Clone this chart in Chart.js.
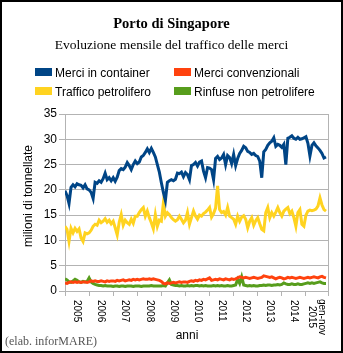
<!DOCTYPE html>
<html lang="it">
<head>
<meta charset="utf-8">
<title>Porto di Singapore</title>
<script src="https://cdn.jsdelivr.net/npm/chart.js@4.4.0/dist/chart.umd.min.js"></script>
<style>
  html, body { margin: 0; padding: 0; background: #fff; }
  canvas { display: block; }
</style>
</head>
<body>
<canvas id="chart" width="343" height="353"></canvas>
<script>
"use strict";

// ── data (milioni di tonnellate, gen 2005 – nov 2015, monthly) ────────────────

const MONTHS_TOTAL = 131;

const containerSeries = [
  19.8, 18.9, 17.3, 20.5, 21.0, 20.6, 21.2, 21.0, 20.9, 20.4, 21.0, 20.2,
  20.0, 19.5, 18.3, 21.5, 21.3, 21.8, 21.5, 22.2, 23.3, 22.0, 22.4, 21.8,
  22.4, 21.7, 22.5, 23.8, 24.2, 24.0, 24.5, 25.4, 24.8, 24.0, 25.0, 25.7,
  25.2, 25.5, 26.5, 26.8, 27.4, 28.1, 27.4, 28.2, 27.4, 26.5, 25.0, 23.5,
  21.4, 19.5, 17.9, 21.5, 21.8, 22.0, 21.8, 22.1, 23.3, 23.2, 23.5, 22.6,
  23.4, 23.0, 22.0, 24.8, 25.0, 25.4, 24.7, 25.5, 25.7, 23.7, 22.4, 24.4,
  24.3, 24.0, 22.0, 26.2, 26.6, 26.0, 26.3, 27.0, 25.0, 26.8, 26.4, 25.2,
  27.0, 24.8, 26.2, 27.2, 27.8, 28.6, 28.3, 27.6, 27.4, 27.0, 27.2, 26.8,
  26.6, 25.7, 22.4, 27.5, 28.0, 28.8, 29.3, 29.6, 30.3, 28.6, 29.0, 28.8,
  28.4, 29.0, 25.0, 30.2, 30.4, 30.7, 30.2, 30.0, 30.4, 30.0, 30.1, 30.3,
  30.5, 29.2, 26.7, 28.8, 29.3, 28.7, 28.3, 27.8, 27.2, 26.3, 26.5,
];

const convenzionaliSeries = [
  1.6, 1.5, 1.7, 1.8, 1.7, 1.8, 1.7, 1.8, 1.7, 1.8, 1.8, 1.7,
  1.8, 2.0, 1.9, 2.0, 1.9, 1.9, 2.0, 1.9, 1.8, 2.0, 1.9, 2.0,
  2.0, 1.9, 2.1, 2.0, 2.1, 2.2, 2.0, 2.1, 2.2, 2.1, 2.3, 2.2,
  2.3, 2.2, 2.3, 2.4, 2.3, 2.3, 2.4, 2.3, 2.4, 2.3, 2.2, 2.1,
  1.9, 1.5, 1.4, 1.6, 1.5, 1.6, 1.7, 1.6, 1.7, 1.8, 1.7, 1.8,
  1.8, 1.7, 1.9, 2.0, 1.9, 2.1, 2.0, 2.2, 2.1, 2.3, 2.2, 2.4,
  2.6, 2.1, 2.2, 2.3, 2.2, 2.4, 2.3, 2.2, 2.4, 2.3, 2.2, 2.4,
  2.3, 2.4, 2.6, 2.8, 2.7, 2.6, 2.7, 2.6, 2.5, 2.6, 2.7, 2.6,
  2.5, 2.6, 2.7, 3.0, 2.9, 2.8, 2.7, 2.8, 2.6, 2.4, 2.6, 2.7,
  2.6, 2.4, 2.5, 2.7, 2.6, 2.7, 2.6, 2.5, 2.6, 2.7, 2.6, 2.5,
  2.6, 2.7, 2.6, 2.7, 2.8, 2.7, 2.6, 2.8, 2.9, 2.7, 2.6,
];

const petroliferoSeries = [
  12.8, 12.2,  9.8, 12.4, 11.5, 12.4, 11.8, 12.3, 10.5,  9.8, 11.5, 11.3,
  11.5, 12.0, 12.8, 13.2, 13.0, 14.0, 13.5, 13.8, 14.3, 13.6, 14.0, 13.3,
  13.8, 12.5, 11.1, 13.6, 15.1, 13.0, 14.0, 13.5, 13.2, 14.2, 13.4, 14.8,
  14.8, 15.5, 16.1, 16.5, 14.8, 15.8, 14.5, 13.5, 12.3, 15.1, 12.8, 14.0,
  13.8, 17.4, 14.8, 15.5, 15.1, 14.5, 14.1, 13.8, 14.1, 14.8, 14.2, 13.5,
  14.0, 15.5, 13.2, 14.5, 15.8, 14.8, 14.2, 15.0, 14.8, 15.3, 15.6, 16.0,
  16.5, 14.6, 15.3, 16.4, 20.8, 16.1, 15.5, 15.7, 15.0, 16.5, 14.8, 14.5,
  14.2, 13.2, 14.8, 13.8, 14.6, 14.9, 14.2, 12.5, 13.8, 14.5, 13.0, 13.9,
  14.5, 13.3, 12.2, 11.9, 15.5, 16.5, 14.5, 15.5, 14.8, 15.6, 16.5, 15.5,
  14.8, 15.8, 16.2, 16.5, 15.3, 15.8, 14.5, 12.8, 15.5, 16.1, 13.2, 12.8,
  15.0, 15.8, 16.0, 15.9, 16.0, 16.2, 16.8, 18.4, 17.0, 16.1, 15.8,
];

const rinfuseSeries = [
  2.4, 2.2, 1.8, 1.7, 2.0, 2.3, 2.1, 1.8, 1.7, 1.9, 1.8, 1.9,
  2.6, 1.8, 1.5, 1.3, 1.2, 1.1, 1.1, 1.0, 1.1, 1.0, 1.0, 1.0,
  0.9, 1.0, 1.0, 0.9, 1.0, 1.0, 0.9, 1.0, 1.0, 1.0, 0.9, 1.0,
  1.0, 1.0, 0.9, 1.0, 1.0, 1.0, 1.0, 1.1, 1.0, 1.0, 1.0, 1.0,
  1.0, 1.1, 1.0, 1.6, 2.2, 1.3, 1.2, 1.1, 1.1, 1.0, 1.1, 1.0,
  1.0, 1.1, 1.0, 1.1, 1.0, 1.1, 1.1, 1.0, 1.1, 1.0, 1.1, 1.0,
  1.0, 1.0, 1.1, 1.0, 1.1, 1.0, 1.1, 1.0, 1.0, 1.1, 1.0, 1.0,
  1.1, 1.2, 2.3, 1.5, 2.8, 1.2, 1.1, 1.0, 1.1, 1.0, 1.1, 1.0,
  1.0, 1.1, 1.1, 1.2, 1.1, 1.2, 1.2, 1.1, 1.2, 1.2, 1.3, 1.2,
  1.3, 1.6, 1.4, 1.3, 1.3, 1.4, 1.3, 1.3, 1.4, 1.3, 1.3, 1.4,
  1.5, 1.6, 1.5, 1.6, 1.5, 1.6, 1.7, 1.8, 1.6, 1.5, 1.5,
];

// year boundaries (month index) and the label centred in each year
const yearTicks  = [0, 12, 24, 36, 48, 60, 72, 84, 96, 108, 120, 131];
const yearLabels = ["2005", "2006", "2007", "2008", "2009", "2010",
                    "2011", "2012", "2013", "2014", ["gen-nov", "2015"]];
const yTicks     = [0, 5, 10, 15, 20, 25, 30, 35];

const seriesNames = ["Merci in container", "Merci convenzionali",
                     "Traffico petrolifero", "Rinfuse non petrolifere"];

// ── styling ───────────────────────────────────────────────────────────────────

const COLORS = {
  container: "#004586",
  conv:      "#ff420e",
  petro:     "#ffd320",
  rinfuse:   "#579d1c",
};
const GRID  = "#b3b3b3";
const SANS  = "'Liberation Sans', Arial, sans-serif";
const SERIF = "'Liberation Serif', 'Times New Roman', serif";

function toPoints(values) {
  return values.map((v, i) => ({ x: i, y: v }));
}

function lineDataset(label, values, color) {
  return {
    label,
    data: toPoints(values),
    borderColor: color,
    backgroundColor: color,
    borderWidth: 3,
    pointRadius: 0,
    tension: 0,
    fill: false,
  };
}

// ── decorations: titles, legend, axis labels, frame ──────────────────────────
const decorPlugin = {
  id: "decor",
  afterDraw(chart) {
    const { ctx, chartArea, scales } = chart;
    ctx.save();

    // plot right border
    ctx.strokeStyle = GRID;
    ctx.lineWidth = 1;
    ctx.beginPath();
    ctx.moveTo(chartArea.right + 0.5, chartArea.top);
    ctx.lineTo(chartArea.right + 0.5, chartArea.bottom + 1);
    ctx.stroke();

    // titles
    ctx.fillStyle = "#000";
    ctx.textAlign = "center";
    ctx.textBaseline = "alphabetic";
    ctx.font = `bold 14.5px ${SERIF}`;
    ctx.fillText("Porto di Singapore", 171.5, 28);
    ctx.font = `13.5px ${SERIF}`;
    ctx.fillText("Evoluzione mensile del traffico delle merci", 171.5, 49);

    // legend, 2 x 2
    const legendItems = [
      { text: seriesNames[0], color: COLORS.container, x: 35,  y: 68 },
      { text: seriesNames[1], color: COLORS.conv,      x: 174, y: 68 },
      { text: seriesNames[2], color: COLORS.petro,     x: 35,  y: 87 },
      { text: seriesNames[3], color: COLORS.rinfuse,   x: 174, y: 87 },
    ];
    ctx.font = `12px ${SANS}`;
    ctx.textAlign = "left";
    legendItems.forEach(item => {
      ctx.fillStyle = item.color;
      ctx.fillRect(item.x, item.y, 17, 8);
      ctx.fillStyle = "#000";
      ctx.fillText(item.text, item.x + 20, item.y + 8.5);
    });

    // y axis title
    ctx.save();
    ctx.translate(29, 196);
    ctx.rotate(-Math.PI / 2);
    ctx.textAlign = "center";
    ctx.textBaseline = "middle";
    ctx.font = `12px ${SANS}`;
    ctx.fillText("milioni di tonnellate", 0, 0);
    ctx.restore();

    // x labels, rotated clockwise, centred in each year
    const xs = scales.x;
    ctx.font = `10px ${SANS}`;
    yearLabels.forEach((lab, k) => {
      const mid = (yearTicks[k] + yearTicks[k + 1]) / 2;
      const px = xs.getPixelForValue(mid);
      ctx.save();
      ctx.translate(px, 300);
      ctx.rotate(Math.PI / 2);
      ctx.textBaseline = "middle";
      if (Array.isArray(lab)) {
        ctx.textAlign = "center";
        ctx.fillText(lab[0], 17, -5);
        ctx.fillText(lab[1], 17, 5);
      } else {
        ctx.textAlign = "left";
        ctx.fillText(lab, 0, 0);
      }
      ctx.restore();
    });

    ctx.font = `12px ${SANS}`;
    ctx.textAlign = "center";
    ctx.textBaseline = "alphabetic";
    ctx.fillText("anni", 187, 339);

    // credit
    ctx.font = `12px ${SERIF}`;
    ctx.fillStyle = "#555";
    ctx.textAlign = "left";
    ctx.fillText("(elab. inforMARE)", 5, 345);

    // outer frame
    ctx.strokeStyle = "#000";
    ctx.lineWidth = 2;
    ctx.strokeRect(1, 1, 341, 351);

    ctx.restore();
  },
};

// ── chart ─────────────────────────────────────────────────────────────────────
new Chart(document.getElementById("chart"), {
  type: "line",
  data: {
    datasets: [
      lineDataset(seriesNames[0], containerSeries,     COLORS.container),
      lineDataset(seriesNames[1], convenzionaliSeries, COLORS.conv),
      lineDataset(seriesNames[2], petroliferoSeries,   COLORS.petro),
      lineDataset(seriesNames[3], rinfuseSeries,       COLORS.rinfuse),
    ],
  },
  options: {
    responsive: false,
    animation: false,
    events: [],
    layout: { padding: { top: 114, right: 15, bottom: 0, left: 0 } },
    plugins: {
      legend: { display: false },
      tooltip: { enabled: false },
      title: { display: false },
    },
    scales: {
      x: {
        type: "linear",
        min: 0,
        max: MONTHS_TOTAL,
        afterBuildTicks: s => { s.ticks = yearTicks.map(v => ({ value: v })); },
        afterFit: s => { s.height = 62; },
        ticks: { display: false },
        grid: { drawOnChartArea: false, drawTicks: true, tickLength: 5, color: GRID },
        border: { color: GRID },
      },
      y: {
        min: 0,
        max: 35,
        afterBuildTicks: s => { s.ticks = yTicks.map(v => ({ value: v })); },
        afterFit: s => { s.width = 65; },
        ticks: { color: "#000", font: { family: SANS, size: 12 }, padding: 2 },
        grid: { color: GRID, tickLength: 6 },
        border: { color: GRID },
      },
    },
  },
  plugins: [decorPlugin],
});
</script>
</body>
</html>
